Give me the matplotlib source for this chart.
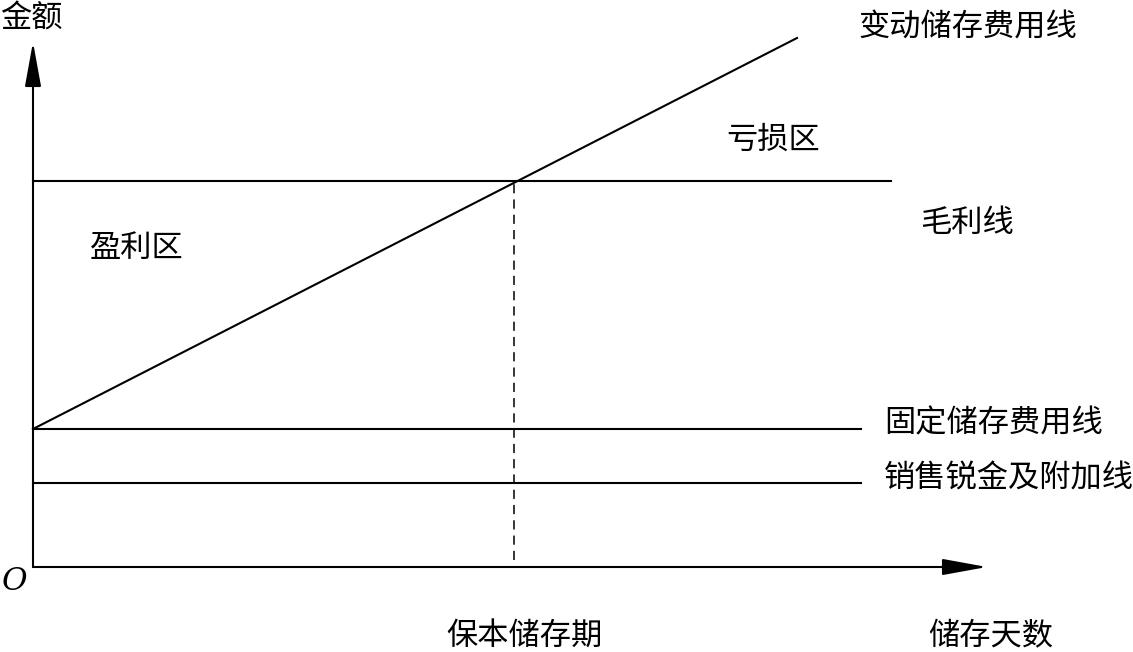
import matplotlib
matplotlib.use("Agg")
import matplotlib.pyplot as plt

plt.rcParams['font.family'] = ['Noto Sans CJK SC', 'DejaVu Sans']

# Schematic values (arbitrary units, origin at O)
x_axis_end = 954
y_axis_end = 525
gross_profit = 386          # 毛利线
gross_profit_xend = 858
fixed_cost = 138            # 固定储存费用线
sales_tax = 84              # 销售锐金及附加线
hline_xend = 828
var_line_x = [0, 764]       # 变动储存费用线
var_line_y = [138, 529]
breakeven_x = 481           # 保本储存期
dash_bottom = 7

labels = {
    "y_axis": "金额",
    "x_axis": "储存天数",
    "origin": "O",
    "var": "变动储存费用线",
    "loss": "亏损区",
    "gross": "毛利线",
    "profit": "盈利区",
    "fixed": "固定储存费用线",
    "tax": "销售锐金及附加线",
    "breakeven": "保本储存期",
}

fig = plt.figure(figsize=(11.33, 6.52), dpi=100)
ax = fig.add_axes([0, 0, 1, 1])
ax.set_xlim(-33, 1100)
ax.set_ylim(-85, 567)
ax.axis('off')

lw = 1.5
ap = dict(arrowstyle='-|>,head_length=1.1,head_width=0.2', lw=lw, color='black',
          shrinkA=0, shrinkB=0, mutation_scale=25)
ax.annotate('', xy=(0, y_axis_end), xytext=(0, 0), arrowprops=ap)
ax.annotate('', xy=(x_axis_end, 0), xytext=(0, 0), arrowprops=ap)

ax.plot([0, gross_profit_xend], [gross_profit, gross_profit], color='black', lw=lw)
ax.plot([0, hline_xend], [fixed_cost, fixed_cost], color='black', lw=lw)
ax.plot([0, hline_xend], [sales_tax, sales_tax], color='black', lw=lw)
ax.plot(var_line_x, var_line_y, color='black', lw=lw)
ax.plot([breakeven_x, breakeven_x], [dash_bottom, gross_profit], color='black', lw=1.1,
        linestyle=(0, (6, 4)))

fs = 22.5
ax.text(-33, 548, labels["y_axis"], fontsize=fs, ha='left', va='center')
ax.text(-31, -14, labels["origin"], fontsize=fs, ha='left', va='center',
        family='DejaVu Serif', style='italic')
ax.text(825, 539, labels["var"], fontsize=fs, ha='left', va='center')
ax.text(693, 427, labels["loss"], fontsize=fs, ha='left', va='center')
ax.text(887, 344, labels["gross"], fontsize=fs, ha='left', va='center')
ax.text(57, 319, labels["profit"], fontsize=fs, ha='left', va='center')
ax.text(851, 144, labels["fixed"], fontsize=fs, ha='left', va='center')
ax.text(851, 89, labels["tax"], fontsize=fs, ha='left', va='center')
ax.text(413, -69, labels["breakeven"], fontsize=fs, ha='left', va='center')
ax.text(895, -69, labels["x_axis"], fontsize=fs, ha='left', va='center')

fig.savefig("out.png", dpi=100)
